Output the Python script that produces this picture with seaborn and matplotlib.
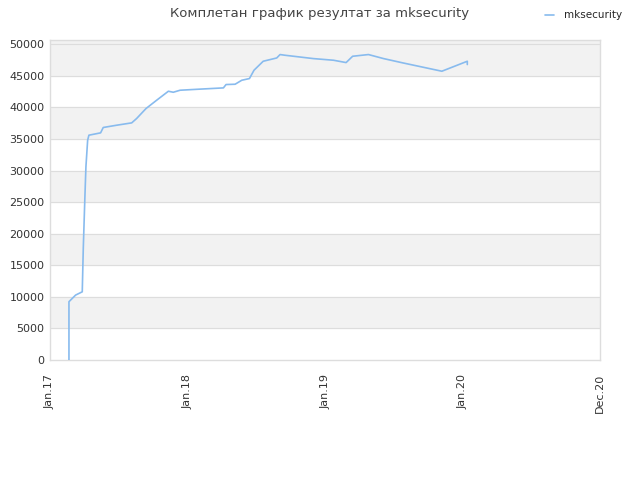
import pandas as pd
import matplotlib
matplotlib.use("Agg")
import matplotlib.pyplot as plt
import seaborn as sns

# months since Jan 2017, score values
months = [1.66, 1.66, 2.24, 2.82, 2.91, 3.05, 3.14, 3.29, 3.40, 4.42, 4.65, 5.82,
          7.13, 7.56, 8.38, 9.31, 10.33, 10.76, 11.35, 12.94, 15.13, 15.36, 16.15,
          16.73, 17.4, 17.8, 18.6, 19.78, 20.07, 20.5, 22.98, 24.73, 25.83, 26.4,
          27.78, 29.1, 30.8, 34.18, 36.4, 36.4]
scores = [0, 9230, 10280, 10800, 17700, 25800, 30600, 34800, 35600, 35970, 36820, 37180,
          37550, 38240, 39820, 41140, 42560, 42400, 42720, 42880, 43090, 43620, 43670,
          44300, 44570, 45890, 47310, 47830, 48370, 48260, 47730, 47470, 47100, 48100,
          48370, 47730, 47040, 45730, 47310, 46790]

tick_months = [0, 12, 24, 36, 48]
tick_labels = ["Jan.17", "Jan.18", "Jan.19", "Jan.20", "Dec.20"]
y_ticks = list(range(0, 50001, 5000))

df = pd.DataFrame({"month": months, "score": scores})

sns.set_style("white")
plt.rcParams["font.family"] = ["DejaVu Sans"]

fig = plt.figure(figsize=(6.4, 4.8), dpi=100)
ax = fig.add_axes([0.078, 0.25, 0.86, 0.667])

# alternating grey bands
for lo in range(5000, 50001, 10000):
    ax.axhspan(lo, lo + 5000, color="#f2f2f2", zorder=0)
ax.axhspan(50000, 50700, color="#f2f2f2", zorder=0)
for y in y_ticks[1:]:
    ax.axhline(y, color="#dddddd", lw=0.8, zorder=1)

sns.lineplot(data=df, x="month", y="score", ax=ax, sort=False, estimator=None,
             color="#88bbee", lw=1.2, label="mksecurity", zorder=3)

ax.set_xlim(0, 48)
ax.set_ylim(0, 50700)
ax.set_xticks(tick_months)
ax.set_xticklabels(tick_labels, rotation=90, fontsize=8, color="#333333")
ax.set_yticks(y_ticks)
ax.set_yticklabels([str(v) for v in y_ticks], fontsize=8, color="#333333")
ax.tick_params(axis="y", length=0, pad=4)
ax.tick_params(axis="x", length=0, pad=10)
ax.set_xlabel("")
ax.set_ylabel("")
for s in ax.spines.values():
    s.set_color("#dddddd")
    s.set_linewidth(1)

fig.suptitle("Комплетан график резултат за mksecurity", y=0.985, fontsize=9.5, color="#444444")
ax.legend(loc="upper right", bbox_to_anchor=(1.057, 1.122), frameon=False, fontsize=7.5,
          handlelength=0.8, handletextpad=1.0)

fig.savefig("out.png", dpi=100)
